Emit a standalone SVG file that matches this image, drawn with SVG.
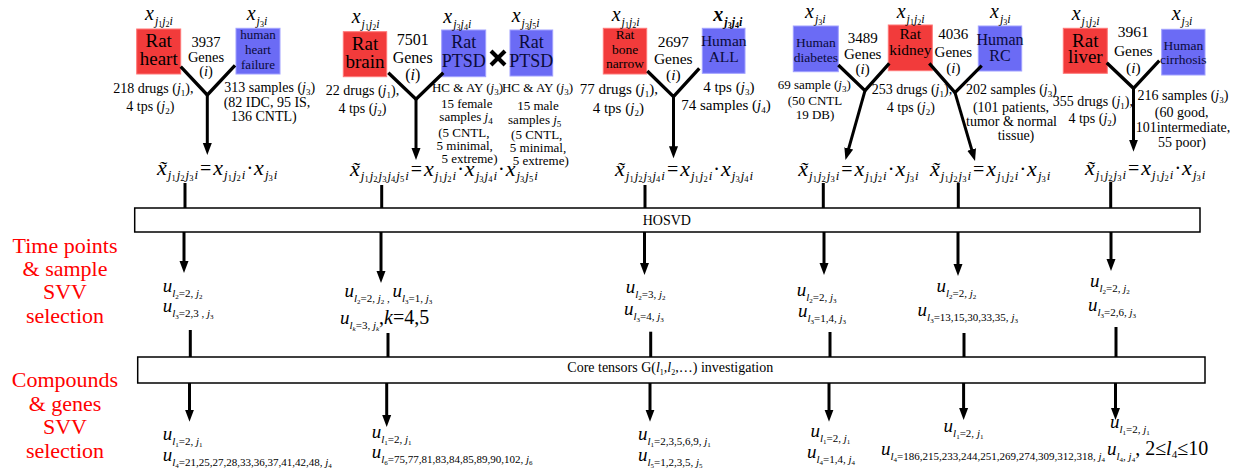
<svg xmlns="http://www.w3.org/2000/svg" width="1245" height="471" viewBox="0 0 1245 471" font-family="Liberation Serif, DejaVu Serif, serif">
<defs>
<style>
svg{font-family:'Liberation Serif','DejaVu Serif',serif}
text{font-family:'Liberation Serif','DejaVu Serif',serif;fill:#000}
.it{font-style:italic}
.side{font-size:22px;fill:#f00;text-anchor:middle}
.mid{text-anchor:middle}
.d13{font-size:13px}
.d14{font-size:14px}
.d15{font-size:15px}
.sd{font-size:9px;font-style:normal}
.rb{fill:#f23b3b;stroke:#f77;stroke-width:1}
.bb{fill:#6b6bf5;stroke:#a0a0ff;stroke-width:1}
.bt{text-anchor:middle;fill:#000}
.bbt{text-anchor:middle;fill:#0a0a3a}
.fx{font-size:22px;font-style:italic}
.fs{font-size:13px;font-style:italic}
.fd{font-size:8.5px;font-style:normal}
.fe{font-size:20px;font-style:normal}
.lx{font-size:20px;font-style:italic}
.ls{font-size:12px;font-style:italic}
.ld{font-size:8px;font-style:normal}
.uu{font-size:19px;font-style:italic}
.us{font-size:11px}
.ud{font-size:7px}
.ub{font-size:20px}
.box{fill:#fff;stroke:#000;stroke-width:1.5}
.ln{stroke:#000;stroke-width:3;fill:none}
.yy{stroke:#000;stroke-width:3.3;fill:none;stroke-linejoin:miter}
.ar{stroke:#000;stroke-width:3;fill:none;marker-end:url(#ah)}
</style>
<marker id="ah" markerUnits="userSpaceOnUse" markerWidth="13" markerHeight="10" viewBox="0 0 13 10" refX="3" refY="5" orient="auto"><path d="M0,0.5 L12,5 L0,9.5 z" fill="#000"/></marker>
</defs>
<rect width="1245" height="471" fill="#fff"/>

<g id="side-labels">
<text class="side" x="65" y="252.7">Time points</text>
<text class="side" x="65" y="276">&amp; sample</text>
<text class="side" x="65" y="299.3">SVV</text>
<text class="side" x="65" y="322.7">selection</text>
<text class="side" x="65" y="387.3">Compounds</text>
<text class="side" x="65" y="410.7">&amp; genes</text>
<text class="side" x="65" y="434.3">SVV</text>
<text class="side" x="65" y="458">selection</text>
</g>

<g id="hosvd">
<rect class="box" x="134.7" y="208" width="1065.3" height="24"/>
<text x="642.7" y="224.5" font-size="14">HOSVD</text>
</g>

<g id="core">
<rect class="box" x="137.7" y="357" width="1067.3" height="26"/>
<text x="567.3" y="372" font-size="14">Core tensors G(<tspan class="it">l</tspan><tspan font-size="8" dy="3">1</tspan><tspan dy="-3">,</tspan><tspan class="it">l</tspan><tspan font-size="8" dy="3">2</tspan><tspan dy="-3">,…) investigation</tspan></text>
</g>

<!-- Column 1 -->
<g id="rat-heart">
<rect class="rb" x="136.7" y="29" width="44" height="45"/>
<text class="bt" font-size="19" x="158.7" y="46.5">Rat</text>
<text class="bt" font-size="19" x="158.7" y="65">heart</text>
<text x="145" y="20"><tspan class="lx">x</tspan><tspan class="ls" dy="5" dx="1">j</tspan><tspan class="ld" dy="2">1</tspan><tspan class="ls" dy="-2">j</tspan><tspan class="ld" dy="2">2</tspan><tspan class="ls" dy="-2">i</tspan></text>
<text class="d14 mid" x="153.3" y="92.5">218 drugs (<tspan class="it">j</tspan><tspan class="sd" dy="3">1</tspan><tspan dy="-3">),</tspan></text>
<text class="d14 mid" x="150.3" y="111">4 tps (<tspan class="it">j</tspan><tspan class="sd" dy="3">2</tspan><tspan dy="-3">)</tspan></text>
</g>
<g id="genes-3937">
<text class="mid" font-size="14.5" x="206" y="46.7">3937</text>
<text class="mid" font-size="14.5" x="206" y="61.7">Genes</text>
<text class="mid" font-size="14.5" x="206" y="76">(<tspan class="it">i</tspan>)</text>
</g>
<g id="human-heart-failure">
<rect class="bb" x="236" y="28.3" width="44" height="45.7"/>
<text class="bbt" font-size="13" x="258" y="39.3">human</text>
<text class="bbt" font-size="13" x="258" y="54">heart</text>
<text class="bbt" font-size="13" x="258" y="68.7">failure</text>
<text x="246.7" y="20"><tspan class="lx">x</tspan><tspan class="ls" dy="5" dx="1">j</tspan><tspan class="ld" dy="2">3</tspan><tspan class="ls" dy="-2">i</tspan></text>
<text class="d14 mid" x="269.7" y="92">313 samples (<tspan class="it">j</tspan><tspan class="sd" dy="3">3</tspan><tspan dy="-3">)</tspan></text>
<text class="d14 mid" x="267" y="106.5">(82 IDC, 95 IS,</text>
<text class="d14 mid" x="263.8" y="121">136 CNTL)</text>
</g>
<g id="formula-1">
<text x="157" y="175"><tspan class="fx">x̃</tspan><tspan class="fs" dy="4" dx="1">j</tspan><tspan class="fd" dy="2">1</tspan><tspan class="fs" dy="-2" dx="1">j</tspan><tspan class="fd" dy="2">2</tspan><tspan class="fs" dy="-2" dx="1">j</tspan><tspan class="fd" dy="2">3</tspan><tspan class="fs" dy="-2" dx="1">i</tspan><tspan class="fe" dy="-4" dx="2">=</tspan><tspan class="fx" dx="2">x</tspan><tspan class="fs" dy="4" dx="1">j</tspan><tspan class="fd" dy="2">1</tspan><tspan class="fs" dy="-2" dx="1">j</tspan><tspan class="fd" dy="2">2</tspan><tspan class="fs" dy="-2" dx="1">i</tspan><tspan class="fe" dy="-4" dx="1">·</tspan><tspan class="fx" dx="1">x</tspan><tspan class="fs" dy="4" dx="1">j</tspan><tspan class="fd" dy="2">3</tspan><tspan class="fs" dy="-2" dx="1">i</tspan></text>
</g>

<!-- Column 2 -->
<g id="rat-brain">
<rect class="rb" x="343.3" y="31.7" width="43.4" height="45"/>
<text class="bt" font-size="19" x="365" y="50">Rat</text>
<text class="bt" font-size="19" x="365" y="68.3">brain</text>
<text x="351.7" y="22.5"><tspan class="lx">x</tspan><tspan class="ls" dy="5" dx="1">j</tspan><tspan class="ld" dy="2">1</tspan><tspan class="ls" dy="-2">j</tspan><tspan class="ld" dy="2">2</tspan><tspan class="ls" dy="-2">i</tspan></text>
<text class="d14 mid" x="362.5" y="95">22 drugs (<tspan class="it">j</tspan><tspan class="sd" dy="3">1</tspan><tspan dy="-3">),</tspan></text>
<text class="d14 mid" x="362.5" y="112.7">4 tps (<tspan class="it">j</tspan><tspan class="sd" dy="3">2</tspan><tspan dy="-3">)</tspan></text>
</g>
<g id="genes-7501">
<text class="mid" font-size="16" x="412.7" y="45">7501</text>
<text class="mid" font-size="16" x="412.7" y="63.3">Genes</text>
<text class="mid" font-size="16" x="412.7" y="80">(<tspan class="it">i</tspan>)</text>
</g>
<g id="rat-ptsd-female">
<rect class="bb" x="441.7" y="30" width="44" height="46.7"/>
<text class="bbt" font-size="18" x="463.7" y="48.3">Rat</text>
<text class="bbt" font-size="18" x="463.7" y="66.7">PTSD</text>
<text x="443.3" y="23"><tspan class="lx">x</tspan><tspan class="ls" dy="5" dx="1">j</tspan><tspan class="ld" dy="2">3</tspan><tspan class="ls" dy="-2">j</tspan><tspan class="ld" dy="2">4</tspan><tspan class="ls" dy="-2">i</tspan></text>
<text class="d13 mid" x="467.5" y="91.7">HC &amp; AY (<tspan class="it">j</tspan><tspan class="sd" dy="3">3</tspan><tspan dy="-3">)</tspan></text>
<text class="d13 mid" x="466.7" y="107.5">15 female</text>
<text class="d13 mid" x="466" y="121">samples <tspan class="it">j</tspan><tspan class="sd" dy="3">4</tspan></text>
<text class="d13 mid" x="463.8" y="137">(5 CNTL,</text>
<text class="d13 mid" x="464.7" y="150">5 minimal,</text>
<text class="d13 mid" x="469.5" y="163">5 extreme)</text>
</g>
<g id="times-op">
<line x1="491" y1="51" x2="505" y2="65" stroke="#000" stroke-width="4"/>
<line x1="505" y1="51" x2="491" y2="65" stroke="#000" stroke-width="4"/>
</g>
<g id="rat-ptsd-male">
<rect class="bb" x="510" y="30" width="42.7" height="46"/>
<text class="bbt" font-size="18" x="531.3" y="48.3">Rat</text>
<text class="bbt" font-size="18" x="531.3" y="66.7">PTSD</text>
<text x="511.7" y="21.7"><tspan class="lx">x</tspan><tspan class="ls" dy="5" dx="1">j</tspan><tspan class="ld" dy="2">3</tspan><tspan class="ls" dy="-2">j</tspan><tspan class="ld" dy="2">5</tspan><tspan class="ls" dy="-2">i</tspan></text>
<text class="d13 mid" x="537.5" y="91.7">HC &amp; AY (<tspan class="it">j</tspan><tspan class="sd" dy="3">3</tspan><tspan dy="-3">)</tspan></text>
<text class="d13 mid" x="538" y="110">15 male</text>
<text class="d13 mid" x="534.7" y="123.5">samples <tspan class="it">j</tspan><tspan class="sd" dy="3">5</tspan></text>
<text class="d13 mid" x="536.7" y="139">(5 CNTL,</text>
<text class="d13 mid" x="538" y="151.5">5 minimal,</text>
<text class="d13 mid" x="540.8" y="165">5 extreme)</text>
</g>
<g id="formula-2">
<text x="350" y="176"><tspan class="fx">x̃</tspan><tspan class="fs" dy="4" dx="1">j</tspan><tspan class="fd" dy="2">1</tspan><tspan class="fs" dy="-2" dx="1">j</tspan><tspan class="fd" dy="2">2</tspan><tspan class="fs" dy="-2" dx="1">j</tspan><tspan class="fd" dy="2">3</tspan><tspan class="fs" dy="-2" dx="1">j</tspan><tspan class="fd" dy="2">4</tspan><tspan class="fs" dy="-2" dx="1">j</tspan><tspan class="fd" dy="2">5</tspan><tspan class="fs" dy="-2" dx="1">i</tspan><tspan class="fe" dy="-4" dx="2">=</tspan><tspan class="fx" dx="2">x</tspan><tspan class="fs" dy="4" dx="1">j</tspan><tspan class="fd" dy="2">1</tspan><tspan class="fs" dy="-2" dx="1">j</tspan><tspan class="fd" dy="2">2</tspan><tspan class="fs" dy="-2" dx="1">i</tspan><tspan class="fe" dy="-4" dx="1">·</tspan><tspan class="fx" dx="1">x</tspan><tspan class="fs" dy="4" dx="1">j</tspan><tspan class="fd" dy="2">3</tspan><tspan class="fs" dy="-2" dx="1">j</tspan><tspan class="fd" dy="2">4</tspan><tspan class="fs" dy="-2" dx="1">i</tspan><tspan class="fe" dy="-4" dx="1">·</tspan><tspan class="fx" dx="1">x</tspan><tspan class="fs" dy="4" dx="1">j</tspan><tspan class="fd" dy="2">3</tspan><tspan class="fs" dy="-2" dx="1">j</tspan><tspan class="fd" dy="2">5</tspan><tspan class="fs" dy="-2" dx="1">i</tspan></text>
</g>

<!-- Column 3 -->
<g id="rat-bone-narrow">
<rect class="rb" x="603.3" y="28.3" width="43.4" height="45.7"/>
<text class="bt" font-size="13.5" x="625" y="38.5">Rat</text>
<text class="bt" font-size="13.5" x="625" y="54.3">bone</text>
<text class="bt" font-size="13.5" x="625" y="68.3">narrow</text>
<text x="611.7" y="20.5"><tspan class="lx">x</tspan><tspan class="ls" dy="5" dx="1">j</tspan><tspan class="ld" dy="2">1</tspan><tspan class="ls" dy="-2">j</tspan><tspan class="ld" dy="2">2</tspan><tspan class="ls" dy="-2">i</tspan></text>
<text class="d15 mid" x="618.8" y="94">77 drugs (<tspan class="it">j</tspan><tspan class="sd" dy="3">1</tspan><tspan dy="-3">),</tspan></text>
<text class="d15 mid" x="618.3" y="113">4 tps (<tspan class="it">j</tspan><tspan class="sd" dy="3">2</tspan><tspan dy="-3">)</tspan></text>
</g>
<g id="genes-2697">
<text class="mid" font-size="15.5" x="673.3" y="46.7">2697</text>
<text class="mid" font-size="15.5" x="673.3" y="64">Genes</text>
<text class="mid" font-size="15.5" x="673.3" y="80">(<tspan class="it">i</tspan>)</text>
</g>
<g id="human-all">
<rect class="bb" x="702.3" y="28.3" width="42.7" height="45"/>
<text class="bbt" font-size="15.5" x="723.7" y="45.7">Human</text>
<text class="bbt" font-size="15.5" x="723.7" y="61.7">ALL</text>
<text x="713.3" y="20.5" font-weight="bold"><tspan class="lx">x</tspan><tspan class="ls" dy="5" dx="1">j</tspan><tspan class="ld" dy="2">3</tspan><tspan class="ls" dy="-2">j</tspan><tspan class="ld" dy="2">4</tspan><tspan class="ls" dy="-2">i</tspan></text>
<text class="d15 mid" x="728.8" y="91.7">4 tps (<tspan class="it">j</tspan><tspan class="sd" dy="3">3</tspan><tspan dy="-3">)</tspan></text>
<text class="d15 mid" x="726" y="110">74 samples (<tspan class="it">j</tspan><tspan class="sd" dy="3">4</tspan><tspan dy="-3">)</tspan></text>
</g>
<g id="formula-3">
<text x="615" y="176"><tspan class="fx">x̃</tspan><tspan class="fs" dy="4" dx="1">j</tspan><tspan class="fd" dy="2">1</tspan><tspan class="fs" dy="-2" dx="1">j</tspan><tspan class="fd" dy="2">2</tspan><tspan class="fs" dy="-2" dx="1">j</tspan><tspan class="fd" dy="2">3</tspan><tspan class="fs" dy="-2" dx="1">j</tspan><tspan class="fd" dy="2">4</tspan><tspan class="fs" dy="-2" dx="1">i</tspan><tspan class="fe" dy="-4" dx="2">=</tspan><tspan class="fx" dx="2">x</tspan><tspan class="fs" dy="4" dx="1">j</tspan><tspan class="fd" dy="2">1</tspan><tspan class="fs" dy="-2" dx="1">j</tspan><tspan class="fd" dy="2">2</tspan><tspan class="fs" dy="-2" dx="1">i</tspan><tspan class="fe" dy="-4" dx="1">·</tspan><tspan class="fx" dx="1">x</tspan><tspan class="fs" dy="4" dx="1">j</tspan><tspan class="fd" dy="2">3</tspan><tspan class="fs" dy="-2" dx="1">j</tspan><tspan class="fd" dy="2">4</tspan><tspan class="fs" dy="-2" dx="1">i</tspan></text>
</g>

<!-- Columns 4 & 5 -->
<g id="human-diabetes">
<rect class="bb" x="793.3" y="26" width="45" height="45.7"/>
<text class="bbt" font-size="13.5" x="815.8" y="46.7">Human</text>
<text class="bbt" font-size="13.5" x="815.8" y="61.7">diabetes</text>
<text x="805" y="17.5"><tspan class="lx">x</tspan><tspan class="ls" dy="5" dx="1">j</tspan><tspan class="ld" dy="2">3</tspan><tspan class="ls" dy="-2">i</tspan></text>
<text class="d13 mid" x="814.2" y="89.3">69 sample (<tspan class="it">j</tspan><tspan class="sd" dy="3">3</tspan><tspan dy="-3">)</tspan></text>
<text class="d13 mid" x="815" y="105">(50 CNTL</text>
<text class="d13 mid" x="815" y="119.3">19 DB)</text>
</g>
<g id="genes-3489">
<text class="mid" font-size="15" x="862.7" y="42.7">3489</text>
<text class="mid" font-size="15" x="862.7" y="59.3">Genes</text>
<text class="mid" font-size="15" x="862.7" y="74">(<tspan class="it">i</tspan>)</text>
</g>
<g id="rat-kidney">
<rect class="rb" x="888.3" y="25" width="44" height="45.7"/>
<text class="bt" font-size="15.5" x="910.3" y="39.3">Rat</text>
<text class="bt" font-size="15.5" x="910.3" y="55">kidney</text>
<text x="896.7" y="17.5"><tspan class="lx">x</tspan><tspan class="ls" dy="5" dx="1">j</tspan><tspan class="ld" dy="2">1</tspan><tspan class="ls" dy="-2">j</tspan><tspan class="ld" dy="2">2</tspan><tspan class="ls" dy="-2">i</tspan></text>
<text class="d14 mid" x="912" y="94.3">253 drugs (<tspan class="it">j</tspan><tspan class="sd" dy="3">1</tspan><tspan dy="-3">),</tspan></text>
<text class="d14 mid" x="910.8" y="111.7">4 tps (<tspan class="it">j</tspan><tspan class="sd" dy="3">2</tspan><tspan dy="-3">)</tspan></text>
</g>
<g id="genes-4036">
<text class="mid" font-size="15" x="953.3" y="39.3">4036</text>
<text class="mid" font-size="15" x="953.3" y="57.3">Genes</text>
<text class="mid" font-size="15" x="953.3" y="72.7">(<tspan class="it">i</tspan>)</text>
</g>
<g id="human-rc">
<rect class="bb" x="978.3" y="26" width="43.4" height="45"/>
<text class="bbt" font-size="16" x="1000" y="45">Human</text>
<text class="bbt" font-size="16" x="1000" y="61">RC</text>
<text x="990" y="17.5"><tspan class="lx">x</tspan><tspan class="ls" dy="5" dx="1">j</tspan><tspan class="ld" dy="2">3</tspan><tspan class="ls" dy="-2">i</tspan></text>
<text class="d14 mid" x="1011.5" y="94.3">202 samples (<tspan class="it">j</tspan><tspan class="sd" dy="3">3</tspan><tspan dy="-3">)</tspan></text>
<text class="d14 mid" x="1011" y="111.7">(101 patients,</text>
<text class="d14 mid" x="1011.5" y="126">tumor &amp; normal</text>
<text class="d14 mid" x="1016" y="140">tissue)</text>
</g>
<g id="formula-4">
<text x="798.3" y="176"><tspan class="fx">x̃</tspan><tspan class="fs" dy="4" dx="1">j</tspan><tspan class="fd" dy="2">1</tspan><tspan class="fs" dy="-2" dx="1">j</tspan><tspan class="fd" dy="2">2</tspan><tspan class="fs" dy="-2" dx="1">j</tspan><tspan class="fd" dy="2">3</tspan><tspan class="fs" dy="-2" dx="1">i</tspan><tspan class="fe" dy="-4" dx="2">=</tspan><tspan class="fx" dx="2">x</tspan><tspan class="fs" dy="4" dx="1">j</tspan><tspan class="fd" dy="2">1</tspan><tspan class="fs" dy="-2" dx="1">j</tspan><tspan class="fd" dy="2">2</tspan><tspan class="fs" dy="-2" dx="1">i</tspan><tspan class="fe" dy="-4" dx="1">·</tspan><tspan class="fx" dx="1">x</tspan><tspan class="fs" dy="4" dx="1">j</tspan><tspan class="fd" dy="2">3</tspan><tspan class="fs" dy="-2" dx="1">i</tspan></text>
</g>
<g id="formula-5">
<text x="930" y="176"><tspan class="fx">x̃</tspan><tspan class="fs" dy="4" dx="1">j</tspan><tspan class="fd" dy="2">1</tspan><tspan class="fs" dy="-2" dx="1">j</tspan><tspan class="fd" dy="2">2</tspan><tspan class="fs" dy="-2" dx="1">j</tspan><tspan class="fd" dy="2">3</tspan><tspan class="fs" dy="-2" dx="1">i</tspan><tspan class="fe" dy="-4" dx="2">=</tspan><tspan class="fx" dx="2">x</tspan><tspan class="fs" dy="4" dx="1">j</tspan><tspan class="fd" dy="2">1</tspan><tspan class="fs" dy="-2" dx="1">j</tspan><tspan class="fd" dy="2">2</tspan><tspan class="fs" dy="-2" dx="1">i</tspan><tspan class="fe" dy="-4" dx="1">·</tspan><tspan class="fx" dx="1">x</tspan><tspan class="fs" dy="4" dx="1">j</tspan><tspan class="fd" dy="2">3</tspan><tspan class="fs" dy="-2" dx="1">i</tspan></text>
</g>

<!-- Column 6 -->
<g id="rat-liver">
<rect class="rb" x="1063.3" y="28.3" width="44" height="45"/>
<text class="bt" font-size="19" x="1085.3" y="46.7">Rat</text>
<text class="bt" font-size="19" x="1085.3" y="63.3">liver</text>
<text x="1071.7" y="20"><tspan class="lx">x</tspan><tspan class="ls" dy="5" dx="1">j</tspan><tspan class="ld" dy="2">1</tspan><tspan class="ls" dy="-2">j</tspan><tspan class="ld" dy="2">2</tspan><tspan class="ls" dy="-2">i</tspan></text>
<text class="d14 mid" x="1092.8" y="106">355 drugs (<tspan class="it">j</tspan><tspan class="sd" dy="3">1</tspan><tspan dy="-3">),</tspan></text>
<text class="d14 mid" x="1092.5" y="123.3">4 tps (<tspan class="it">j</tspan><tspan class="sd" dy="3">2</tspan><tspan dy="-3">)</tspan></text>
</g>
<g id="genes-3961">
<text class="mid" font-size="15.5" x="1133.3" y="37.3">3961</text>
<text class="mid" font-size="15.5" x="1133.3" y="56">Genes</text>
<text class="mid" font-size="15.5" x="1133.3" y="73.3">(<tspan class="it">i</tspan>)</text>
</g>
<g id="human-cirrhosis">
<rect class="bb" x="1161.7" y="29.3" width="43.3" height="45.7"/>
<text class="bbt" font-size="13.5" x="1183.3" y="50">Human</text>
<text class="bbt" font-size="13.5" x="1183.3" y="64">cirrhosis</text>
<text x="1171.7" y="20"><tspan class="lx">x</tspan><tspan class="ls" dy="5" dx="1">j</tspan><tspan class="ld" dy="2">3</tspan><tspan class="ls" dy="-2">i</tspan></text>
<text class="d14 mid" x="1183" y="100">216 samples (<tspan class="it">j</tspan><tspan class="sd" dy="3">3</tspan><tspan dy="-3">)</tspan></text>
<text class="d14 mid" x="1181.7" y="117.3">(60 good,</text>
<text class="d14 mid" x="1183" y="131.7">101intermediate,</text>
<text class="d14 mid" x="1182" y="146.7">55 poor)</text>
</g>
<g id="formula-6">
<text x="1085" y="175"><tspan class="fx">x̃</tspan><tspan class="fs" dy="4" dx="1">j</tspan><tspan class="fd" dy="2">1</tspan><tspan class="fs" dy="-2" dx="1">j</tspan><tspan class="fd" dy="2">2</tspan><tspan class="fs" dy="-2" dx="1">j</tspan><tspan class="fd" dy="2">3</tspan><tspan class="fs" dy="-2" dx="1">i</tspan><tspan class="fe" dy="-4" dx="2">=</tspan><tspan class="fx" dx="2">x</tspan><tspan class="fs" dy="4" dx="1">j</tspan><tspan class="fd" dy="2">1</tspan><tspan class="fs" dy="-2" dx="1">j</tspan><tspan class="fd" dy="2">2</tspan><tspan class="fs" dy="-2" dx="1">i</tspan><tspan class="fe" dy="-4" dx="1">·</tspan><tspan class="fx" dx="1">x</tspan><tspan class="fs" dy="4" dx="1">j</tspan><tspan class="fd" dy="2">3</tspan><tspan class="fs" dy="-2" dx="1">i</tspan></text>
</g>

<!-- Time point / sample SVV selections -->
<g id="svv-time-1">
<text x="162.7" y="291.5"><tspan class="uu">u</tspan><tspan class="us it" dy="5">l</tspan><tspan class="ud" dy="2">2</tspan><tspan class="us" dy="-2">=2, </tspan><tspan class="us it">j</tspan><tspan class="ud" dy="2">2</tspan></text>
<text x="162.7" y="311.5"><tspan class="uu">u</tspan><tspan class="us it" dy="5">l</tspan><tspan class="ud" dy="2">3</tspan><tspan class="us" dy="-2">=2,3 , </tspan><tspan class="us it">j</tspan><tspan class="ud" dy="2">3</tspan></text>
</g>
<g id="svv-time-2">
<text x="344.4" y="297"><tspan class="uu">u</tspan><tspan class="us it" dy="5">l</tspan><tspan class="ud" dy="2">2</tspan><tspan class="us" dy="-2">=2, </tspan><tspan class="us it">j</tspan><tspan class="ud" dy="2">2</tspan><tspan class="us" dy="-2"> , </tspan><tspan class="uu" dy="-5">u</tspan><tspan class="us it" dy="5">l</tspan><tspan class="ud" dy="2">3</tspan><tspan class="us" dy="-2">=1, </tspan><tspan class="us it">j</tspan><tspan class="ud" dy="2">3</tspan></text>
<text x="340" y="324"><tspan class="uu">u</tspan><tspan class="us it" dy="5">l</tspan><tspan class="ud it" dy="2">k</tspan><tspan class="us" dy="-2">=3, </tspan><tspan class="us it">j</tspan><tspan class="ud it" dy="2">k</tspan><tspan class="ub" dy="-7">,</tspan><tspan class="ub it">k</tspan><tspan class="ub">=4,5</tspan></text>
</g>
<g id="svv-time-3">
<text x="625.7" y="293"><tspan class="uu">u</tspan><tspan class="us it" dy="5">l</tspan><tspan class="ud" dy="2">2</tspan><tspan class="us" dy="-2">=3, </tspan><tspan class="us it">j</tspan><tspan class="ud" dy="2">2</tspan></text>
<text x="624" y="315"><tspan class="uu">u</tspan><tspan class="us it" dy="5">l</tspan><tspan class="ud" dy="2">3</tspan><tspan class="us" dy="-2">=4, </tspan><tspan class="us it">j</tspan><tspan class="ud" dy="2">3</tspan></text>
</g>
<g id="svv-time-4">
<text x="796.7" y="296"><tspan class="uu">u</tspan><tspan class="us it" dy="5">l</tspan><tspan class="ud" dy="2">2</tspan><tspan class="us" dy="-2">=2, </tspan><tspan class="us it">j</tspan><tspan class="ud" dy="2">3</tspan></text>
<text x="798" y="317"><tspan class="uu">u</tspan><tspan class="us it" dy="5">l</tspan><tspan class="ud" dy="2">3</tspan><tspan class="us" dy="-2">=1,4, </tspan><tspan class="us it">j</tspan><tspan class="ud" dy="2">3</tspan></text>
</g>
<g id="svv-time-5">
<text x="936.5" y="292"><tspan class="uu">u</tspan><tspan class="us it" dy="5">l</tspan><tspan class="ud" dy="2">2</tspan><tspan class="us" dy="-2">=2, </tspan><tspan class="us it">j</tspan><tspan class="ud" dy="2">2</tspan></text>
<text x="917.6" y="316"><tspan class="uu">u</tspan><tspan class="us it" dy="5">l</tspan><tspan class="ud" dy="2">3</tspan><tspan class="us" dy="-2">=13,15,30,33,35, </tspan><tspan class="us it">j</tspan><tspan class="ud" dy="2">3</tspan></text>
</g>
<g id="svv-time-6">
<text x="1090" y="287"><tspan class="uu">u</tspan><tspan class="us it" dy="5">l</tspan><tspan class="ud" dy="2">2</tspan><tspan class="us" dy="-2">=2, </tspan><tspan class="us it">j</tspan><tspan class="ud" dy="2">2</tspan></text>
<text x="1088" y="311"><tspan class="uu">u</tspan><tspan class="us it" dy="5">l</tspan><tspan class="ud" dy="2">3</tspan><tspan class="us" dy="-2">=2,6, </tspan><tspan class="us it">j</tspan><tspan class="ud" dy="2">3</tspan></text>
</g>

<!-- Compound / gene SVV selections -->
<g id="svv-gene-1">
<text x="162.7" y="440"><tspan class="uu">u</tspan><tspan class="us it" dy="5">l</tspan><tspan class="ud" dy="2">1</tspan><tspan class="us" dy="-2">=2, </tspan><tspan class="us it">j</tspan><tspan class="ud" dy="2">1</tspan></text>
<text x="162.7" y="461"><tspan class="uu">u</tspan><tspan class="us it" dy="5">l</tspan><tspan class="ud" dy="2">4</tspan><tspan class="us" dy="-2">=21,25,27,28,33,36,37,41,42,48, </tspan><tspan class="us it">j</tspan><tspan class="ud" dy="2">4</tspan></text>
</g>
<g id="svv-gene-2">
<text x="371.7" y="438"><tspan class="uu">u</tspan><tspan class="us it" dy="5">l</tspan><tspan class="ud" dy="2">1</tspan><tspan class="us" dy="-2">=2, </tspan><tspan class="us it">j</tspan><tspan class="ud" dy="2">1</tspan></text>
<text x="371.7" y="458"><tspan class="uu">u</tspan><tspan class="us it" dy="5">l</tspan><tspan class="ud" dy="2">6</tspan><tspan class="us" dy="-2">=75,77,81,83,84,85,89,90,102, </tspan><tspan class="us it">j</tspan><tspan class="ud" dy="2">6</tspan></text>
</g>
<g id="svv-gene-3">
<text x="638" y="440"><tspan class="uu">u</tspan><tspan class="us it" dy="5">l</tspan><tspan class="ud" dy="2">1</tspan><tspan class="us" dy="-2">=2,3,5,6,9, </tspan><tspan class="us it">j</tspan><tspan class="ud" dy="2">1</tspan></text>
<text x="638" y="461"><tspan class="uu">u</tspan><tspan class="us it" dy="5">l</tspan><tspan class="ud" dy="2">5</tspan><tspan class="us" dy="-2">=1,2,3,5, </tspan><tspan class="us it">j</tspan><tspan class="ud" dy="2">5</tspan></text>
</g>
<g id="svv-gene-4">
<text x="810.5" y="437"><tspan class="uu">u</tspan><tspan class="us it" dy="5">l</tspan><tspan class="ud" dy="2">1</tspan><tspan class="us" dy="-2">=2, </tspan><tspan class="us it">j</tspan><tspan class="ud" dy="2">1</tspan></text>
<text x="807" y="458"><tspan class="uu">u</tspan><tspan class="us it" dy="5">l</tspan><tspan class="ud" dy="2">4</tspan><tspan class="us" dy="-2">=1,4, </tspan><tspan class="us it">j</tspan><tspan class="ud" dy="2">4</tspan></text>
</g>
<g id="svv-gene-5">
<text x="943.6" y="432"><tspan class="uu">u</tspan><tspan class="us it" dy="5">l</tspan><tspan class="ud" dy="2">1</tspan><tspan class="us" dy="-2">=2, </tspan><tspan class="us it">j</tspan><tspan class="ud" dy="2">1</tspan></text>
<text x="881" y="455"><tspan class="uu">u</tspan><tspan class="us it" dy="5">l</tspan><tspan class="ud" dy="2">4</tspan><tspan class="us" dy="-2">=186,215,233,244,251,269,274,309,312,318, </tspan><tspan class="us it">j</tspan><tspan class="ud" dy="2">4</tspan></text>
</g>
<g id="svv-gene-6">
<text x="1110" y="428"><tspan class="uu">u</tspan><tspan class="us it" dy="5">l</tspan><tspan class="ud" dy="2">1</tspan><tspan class="us" dy="-2">=2, </tspan><tspan class="us it">j</tspan><tspan class="ud" dy="2">1</tspan></text>
<text x="1107" y="455"><tspan class="uu">u</tspan><tspan class="us it" dy="5">l</tspan><tspan class="ud" dy="2">4</tspan><tspan class="us" dy="-2">, </tspan><tspan class="us it">j</tspan><tspan class="ud" dy="2">4</tspan><tspan class="ub" dy="-7">, 2≤</tspan><tspan class="ub it">l</tspan><tspan font-size="11" dy="3">4</tspan><tspan class="ub" dy="-3">≤10</tspan></text>
</g>

<g id="connectors">
<polyline class="yy" points="180.7,66.7 207.3,95 235,65.3"/>
<polyline class="yy" points="388.3,72.7 416,99.3 443.3,72.7"/>
<polyline class="yy" points="647.3,71 673.5,96.7 699.3,68.3"/>
<polyline class="yy" points="838.3,65 865,90.7 889.3,63.3"/>
<polyline class="yy" points="929.3,63.3 955,92.7 981.7,65.7"/>
<polyline class="yy" points="1106.7,62.7 1133.5,88.3 1159.3,60.7"/>
<line class="ar" x1="207.3" y1="95" x2="207.3" y2="146"/>
<line class="ar" x1="416" y1="99.3" x2="416" y2="151"/>
<line class="ar" x1="673.5" y1="96.7" x2="673.5" y2="149.3"/>
<line class="ar" x1="865" y1="90.7" x2="847.9" y2="151.3"/>
<line class="ar" x1="955" y1="92.7" x2="972.5" y2="152.4"/>
<line class="ar" x1="1133.5" y1="88.3" x2="1133.5" y2="142.7"/>
<line class="ln" x1="185" y1="183" x2="185" y2="208"/>
<line class="ln" x1="381.7" y1="185" x2="381.7" y2="208"/>
<line class="ln" x1="645" y1="185" x2="645" y2="208"/>
<line class="ln" x1="823.3" y1="183" x2="823.3" y2="208"/>
<line class="ln" x1="958.3" y1="183" x2="958.3" y2="208"/>
<line class="ln" x1="1110.7" y1="181.7" x2="1110.7" y2="208"/>
<line class="ar" x1="184" y1="232" x2="184" y2="264"/>
<line class="ar" x1="381" y1="232" x2="381" y2="274"/>
<line class="ar" x1="644.5" y1="232" x2="644.5" y2="266"/>
<line class="ar" x1="824" y1="232" x2="824" y2="266"/>
<line class="ar" x1="958" y1="232" x2="958" y2="267"/>
<line class="ar" x1="1111" y1="232" x2="1111" y2="262"/>
<line class="ln" x1="190.3" y1="330" x2="190.3" y2="357"/>
<line class="ln" x1="388" y1="333" x2="388" y2="357"/>
<line class="ln" x1="650.7" y1="331.7" x2="650.7" y2="357"/>
<line class="ln" x1="830" y1="332" x2="830" y2="357"/>
<line class="ln" x1="964" y1="333" x2="964" y2="357"/>
<line class="ln" x1="1116" y1="327" x2="1116" y2="357"/>
<line class="ar" x1="189.5" y1="383" x2="189.5" y2="412.7"/>
<line class="ar" x1="386.7" y1="383" x2="386.7" y2="418"/>
<line class="ar" x1="650" y1="383" x2="650" y2="412.7"/>
<line class="ar" x1="829" y1="383" x2="829" y2="412.7"/>
<line class="ar" x1="963.6" y1="383" x2="963.6" y2="411"/>
<line class="ar" x1="1115.5" y1="383" x2="1115.5" y2="411"/>
</g>
</svg>
